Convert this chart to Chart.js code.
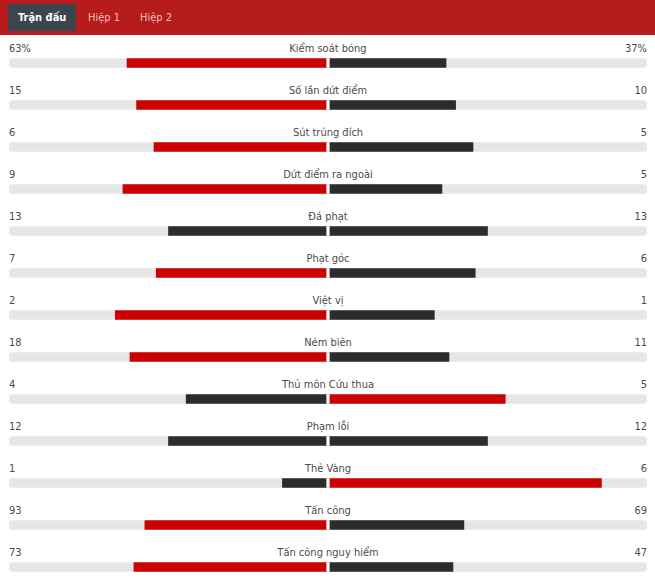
<!DOCTYPE html>
<html>
<head>
<meta charset="utf-8">
<script src="https://cdn.jsdelivr.net/npm/chart.js@4"></script>
<style>
  body { margin: 0; width: 655px; height: 579px; background: #fff; font-family: "DejaVu Sans Condensed", "DejaVu Sans", sans-serif; font-stretch: condensed; overflow: hidden; }
  .tabs { height: 35px; background: #b71c1c; position: relative; }
  .tab { position: absolute; top: 4px; height: 27px; line-height: 27px; font-size: 11px; color: #f4bcbc; }
  .tab.active { background: #3d454c; color: #fff; font-weight: bold; padding: 0 10px; }
  #stats { position: absolute; left: 0; top: 36px; width: 655px; }
  .row { position: absolute; left: 0; width: 655px; height: 14px; line-height: 14px; font-size: 11px; color: #4a4a4a; }
  .row span { position: absolute; top: 0; }
  .row .l { left: 9px; }
  .row .r { right: 8px; }
  .row .n { left: 0; width: 656px; text-align: center; }
  #wrap { position: absolute; left: 0; top: 42px; width: 655px; height: 546px; }
</style>
</head>
<body>
<div class="tabs">
  <div class="tab active" style="left:8px">Trận đấu</div>
  <div class="tab" style="left:88px">Hiệp 1</div>
  <div class="tab" style="left:140px">Hiệp 2</div>
</div>
<div id="stats"></div>
<div id="wrap"><canvas id="chart"></canvas></div>
<script>
const statNames = ["Kiểm soát bóng", "Số lần dứt điểm", "Sút trúng đích", "Dứt điểm ra ngoài", "Đá phạt", "Phạt góc", "Việt vị", "Ném biên", "Thủ môn Cứu thua", "Phạm lỗi", "Thẻ Vàng", "Tấn công", "Tấn công nguy hiểm"];
const homeValues = [63, 15, 6, 9, 13, 7, 2, 18, 4, 12, 1, 93, 73];
const awayValues = [37, 10, 5, 5, 13, 6, 1, 11, 5, 12, 6, 69, 47];
const homeLabels = ["63%", "15", "6", "9", "13", "7", "2", "18", "4", "12", "1", "93", "73"];
const awayLabels = ["37%", "10", "5", "5", "13", "6", "1", "11", "5", "12", "6", "69", "47"];

const RED = "#cc0000";
const DARK = "#2b2b2b";

// text rows
const stats = document.getElementById("stats");
statNames.forEach((name, i) => {
  const row = document.createElement("div");
  row.className = "row";
  row.style.top = (6 + i * 42) + "px";
  row.innerHTML = `<span class="l">${homeLabels[i]}</span><span class="n">${name}</span><span class="r">${awayLabels[i]}</span>`;
  stats.appendChild(row);
});

// each side's share of the half bar
const homeShare = homeValues.map((v, i) => -v / (v + awayValues[i]));
const awayShare = awayValues.map((v, i) => v / (homeValues[i] + v));
const homeColors = homeValues.map((v, i) => v > awayValues[i] ? RED : DARK);
const awayColors = awayValues.map((v, i) => v > homeValues[i] ? RED : DARK);

// chart.js paints the last dataset first, so the grey track goes last
new Chart(document.getElementById("chart").getContext("2d"), {
  type: "bar",
  data: {
    labels: statNames,
    datasets: [
      { data: statNames.map(() => [-0.004, 0.004]), backgroundColor: "#fff" },
      { data: homeShare, backgroundColor: homeColors },
      { data: awayShare, backgroundColor: awayColors },
      { data: statNames.map(() => [-1, 1]), backgroundColor: "#e6e6e6", borderRadius: 4, borderSkipped: false }
    ]
  },
  options: {
    indexAxis: "y",
    responsive: true,
    maintainAspectRatio: false,
    animation: false,
    layout: { padding: { left: 9, right: 8, top: 0, bottom: 0 } },
    datasets: { bar: { grouped: false, barThickness: 9 } },
    plugins: { legend: { display: false }, tooltip: { enabled: false } },
    scales: {
      x: { display: false, min: -1, max: 1 },
      y: { display: false }
    }
  }
});
</script>
</body>
</html>
